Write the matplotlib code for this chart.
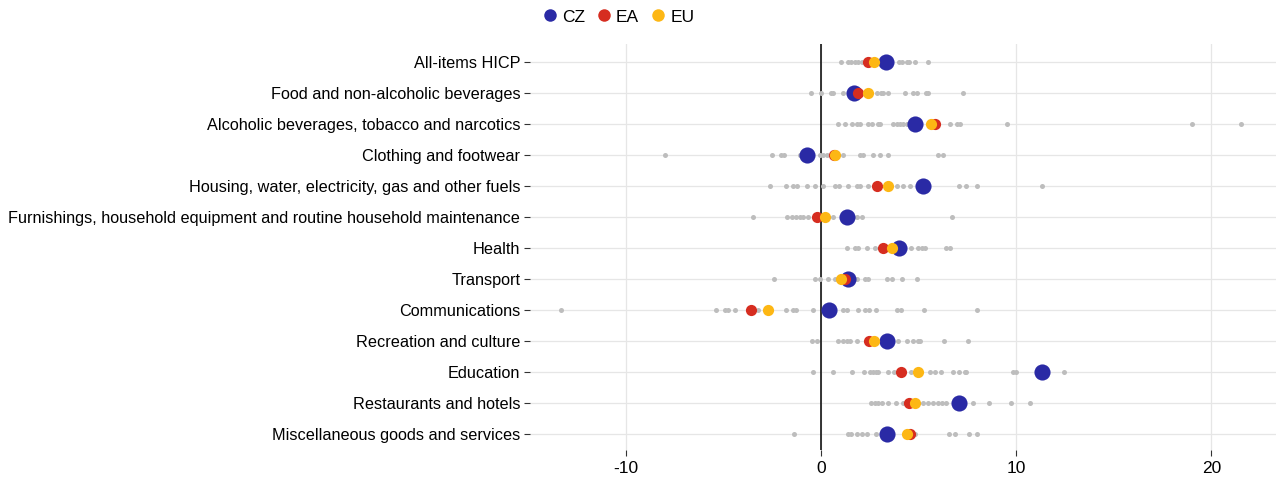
import numpy as np
import matplotlib.pyplot as plt
from matplotlib.lines import Line2D

plt.rcParams['font.family'] = ['Liberation Sans Narrow', 'Liberation Sans', 'DejaVu Sans']
plt.rcParams['axes.unicode_minus'] = False

categories = [
    "All-items HICP",
    "Food and non-alcoholic beverages",
    "Alcoholic beverages, tobacco and narcotics",
    "Clothing and footwear",
    "Housing, water, electricity, gas and other fuels",
    "Furnishings, household equipment and routine household maintenance",
    "Health",
    "Transport",
    "Communications",
    "Recreation and culture",
    "Education",
    "Restaurants and hotels",
    "Miscellaneous goods and services",
]

cz = [3.32, 1.69, 4.82, -0.70, 5.21, 1.32, 4.02, 1.40, 0.43, 3.40, 11.32, 7.09, 3.40]
ea = [2.39, 1.88, 5.85, 0.68, 2.89, -0.22, 3.20, 1.23, -3.59, 2.48, 4.10, 4.53, 4.56]
eu = [2.72, 2.39, 5.62, 0.72, 3.42, 0.21, 3.62, 1.01, -2.70, 2.72, 4.99, 4.82, 4.39]

# other member states, one list per category
others = [
    [1.01, 1.40, 1.57, 1.74, 1.91, 2.09, 4.00, 4.17, 4.39, 4.53, 4.82, 5.50],
    [-0.51, 0.00, 0.50, 0.63, 1.11, 2.86, 3.06, 3.20, 3.42, 4.31, 4.70, 4.91, 5.38, 5.50, 7.30],
    [0.89, 1.23, 1.61, 1.83, 2.00, 2.43, 2.60, 2.94, 3.03, 3.71, 3.88, 4.05, 4.22, 4.39,
     6.62, 6.96, 7.13, 9.52, 19.03, 21.52],
    [-8.00, -2.50, -2.02, -1.88, -1.08, -0.05, 0.12, 0.29, 1.11, 2.00, 2.17, 2.68, 3.03, 3.42,
     6.02, 6.24],
    [-2.58, -1.79, -1.42, -1.21, -0.70, -0.31, 0.12, 0.72, 0.94, 1.40, 1.83, 2.00, 2.43,
     3.88, 4.22, 4.56, 7.09, 7.44, 8.02, 11.32],
    [-3.47, -1.71, -1.50, -1.25, -1.08, -0.91, -0.65, 0.63, 1.83, 2.09, 6.72],
    [1.32, 1.74, 1.91, 2.34, 2.77, 4.60, 4.99, 5.16, 5.33, 6.41, 6.62],
    [-2.38, -0.31, -0.05, 0.38, 0.72, 1.83, 2.26, 2.43, 3.37, 3.62, 4.14, 4.91],
    [-13.30, -5.38, -4.92, -4.75, -4.41, -3.21, -1.79, -1.42, -1.28, -0.39, 1.11, 1.32, 1.91,
     2.26, 2.48, 2.82, 3.88, 4.09, 5.30, 8.02],
    [-0.44, -0.22, 0.89, 1.11, 1.32, 1.49, 1.83, 3.97, 4.39, 4.73, 4.99, 5.08, 6.31, 7.52],
    [-0.39, 0.60, 1.61, 2.22, 2.51, 2.65, 2.82, 2.94, 3.42, 3.74, 4.60, 5.59, 5.85, 6.14,
     6.79, 7.09, 7.38, 7.44, 9.86, 10.00, 12.43],
    [2.56, 2.77, 2.94, 3.11, 3.42, 3.85, 4.19, 5.25, 5.50, 5.76, 6.02, 6.19, 6.41, 7.81, 8.62,
     9.73, 10.72],
    [-1.38, 1.40, 1.57, 1.83, 2.09, 2.34, 2.82, 4.82, 6.58, 6.87, 7.61, 8.02],
]

c_cz = '#2A2AA5'
c_ea = '#D62D20'
c_eu = '#FDB714'
c_gray = '#BDBDBD'

fig = plt.figure(figsize=(12.77, 4.79), dpi=100)
ax = fig.add_axes([0.415, 0.0605, 0.584, 0.8475])

ypos = np.arange(len(categories))
for i, vals in enumerate(others):
    ax.scatter(vals, np.full(len(vals), i), s=13, color=c_gray, linewidths=0, zorder=3)
ax.scatter(cz, ypos, s=135, color=c_cz, linewidths=0, zorder=4)
ax.scatter(ea, ypos, s=65, color=c_ea, linewidths=0, zorder=5)
ax.scatter(eu, ypos, s=65, color=c_eu, linewidths=0, zorder=6)

ax.axvline(0, color='black', lw=1.1, zorder=2)

ax.set_xlim(-14.9, 23.3)
ax.set_ylim(len(categories) - 0.48, -0.58)
ax.set_xticks([-10, 0, 10, 20])
ax.set_yticks(ypos)
ax.set_yticklabels(categories)
ax.grid(True, color='#E6E6E6', lw=0.9, zorder=0)
ax.set_axisbelow(True)
for s in ax.spines.values():
    s.set_visible(False)
ax.tick_params(axis='both', colors='#333333', labelcolor='black', length=4, width=0.8)
ax.tick_params(axis='x', labelsize=12.5, pad=4)
ax.tick_params(axis='y', labelsize=11.7, pad=3)

handles = [Line2D([], [], marker='o', ls='', markersize=9, color=c, markeredgewidth=0)
           for c in (c_cz, c_ea, c_eu)]
fig.legend(handles, ['CZ', 'EA', 'EU'], loc='upper left', bbox_to_anchor=(0.410, 1.013),
           ncol=3, frameon=False, fontsize=12.5, handletextpad=0.1, columnspacing=0.5,
           handlelength=1.2)

fig.savefig('out.png', dpi=100)
